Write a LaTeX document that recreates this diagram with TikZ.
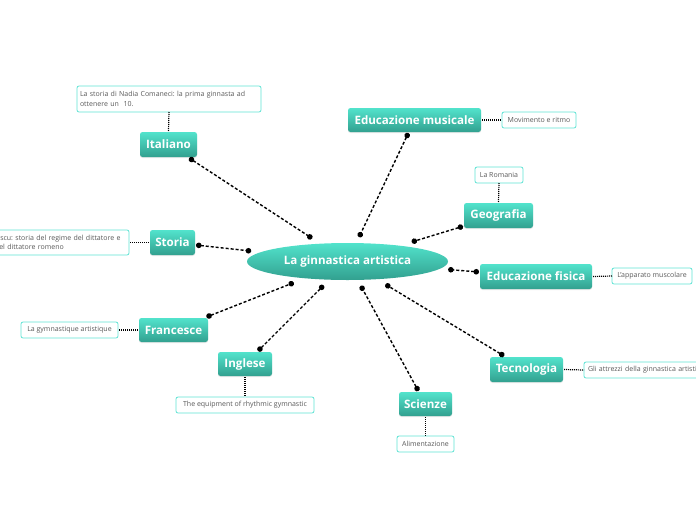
\documentclass[tikz,border=0pt]{standalone}
\usepackage{fontspec}
\setmainfont{Open Sans}
\frenchspacing
\usetikzlibrary{shapes.geometric,arrows.meta,shadows}
\definecolor{boxtop}{HTML}{52E3CC}
\definecolor{boxbot}{HTML}{32A08F}
\definecolor{noteborder}{HTML}{5FE3D4}
\definecolor{notetext}{HTML}{5A5A5A}
\tikzset{
  topic/.style={rectangle, rounded corners=2.5pt, top color=boxtop, bottom color=boxbot,
    text=white, font=\bfseries\fontsize{11.6}{13}\selectfont, inner sep=0pt, outer sep=1pt,
    drop shadow={opacity=0.18, shadow xshift=0pt, shadow yshift=-1pt}},
  central/.style={ellipse, top color=boxtop, bottom color=boxbot, text=white,
    font=\bfseries\fontsize{11.6}{13}\selectfont, inner sep=0pt, minimum width=201pt,
    minimum height=37pt, outer sep=6pt},
  note/.style={rectangle, rounded corners=2pt, draw=noteborder, line width=0.8pt, fill=white,
    text=notetext, font=\fontsize{7}{9.5}\selectfont, inner sep=0pt, outer sep=0pt},
  link/.style={line width=1.4pt, dash pattern=on 3pt off 2pt,
    {Circle[length=5.5pt]}-{Circle[length=5.5pt]}},
  notelink/.style={line width=1.2pt, dash pattern=on 1pt off 1pt},
}
\begin{document}
\begin{tikzpicture}[x=1pt,y=-1pt]
\useasboundingbox (0,0) rectangle (696,520);
% central
\node[central] (c) at (347.5,261.5) {La ginnastica artistica};
% topics
\node[topic, minimum width=57pt, minimum height=25pt] (ital) at (168.5,144.5) {Italiano};
\node[topic, minimum width=45pt, minimum height=25pt] (stor) at (172.5,242.5) {Storia};
\node[topic, minimum width=69pt, minimum height=24pt] (fran) at (173.5,330) {Francesce};
\node[topic, minimum width=54pt, minimum height=24pt] (ingl) at (245,364) {Inglese};
\node[topic, minimum width=53pt, minimum height=24pt] (scie) at (425.5,404) {Scienze};
\node[topic, minimum width=73pt, minimum height=25pt] (tecn) at (526.5,369.5) {Tecnologia};
\node[topic, minimum width=112pt, minimum height=25pt] (edfi) at (536,276.5) {Educazione fisica};
\node[topic, minimum width=69pt, minimum height=25pt] (geog) at (498.5,215.5) {Geografia};
\node[topic, minimum width=133pt, minimum height=24pt] (edmu) at (414.5,120) {Educazione musicale};
% notes
\node[note, minimum width=184pt, minimum height=26pt, align=left, text width=178pt] (nital) at (169,99)
  {La storia di Nadia Comaneci: la prima ginnasta ad\\ottenere un\ \ 10.};
\node[note, anchor=east, minimum height=25pt, align=left, text width=134pt] (nstor) at (129,242.5)
  {\hspace*{-2pt}sescu: storia del regime del dittatore e\\del dittatore romeno};
\node[note, minimum width=97pt, minimum height=16pt] (nfran) at (69.5,330) {La gymnastique artistique};
\node[note, minimum width=138pt, minimum height=16pt] (ningl) at (245,405) {The equipment of rhythmic gymnastic};
\node[note, minimum width=57pt, minimum height=16pt] (nscie) at (425.5,444) {Alimentazione};
\node[note, anchor=west, minimum height=16pt, align=left, text width=140pt] (ntecn) at (584,370)
  {\hspace*{4pt}Gli attrezzi della ginnastica artistica};
\node[note, minimum width=80pt, minimum height=16pt] (nedfi) at (652,276) {L'apparato muscolare};
\node[note, minimum width=48pt, minimum height=16pt] (ngeog) at (499,175) {La Romania};
\node[note, minimum width=74pt, minimum height=16pt] (nedmu) at (539,120) {Movimento e ritmo};
% main links
\foreach \t in {ital,stor,fran,ingl,scie,tecn,edfi,geog,edmu}
  \draw[link] (\t) -- (c);
% note links
\draw[notelink] (ital.north) -- (nital.south);
\draw[notelink] (stor.west) -- (nstor.east);
\draw[notelink] (fran.west) -- (nfran.east);
\draw[notelink] (ingl.south) -- (ningl.north);
\draw[notelink] (scie.south) -- (nscie.north);
\draw[notelink] (tecn.east) -- (ntecn.west);
\draw[notelink] (edfi.east) -- (nedfi.west);
\draw[notelink] (geog.north) -- (ngeog.south);
\draw[notelink] (edmu.east) -- (nedmu.west);
\end{tikzpicture}
\end{document}
